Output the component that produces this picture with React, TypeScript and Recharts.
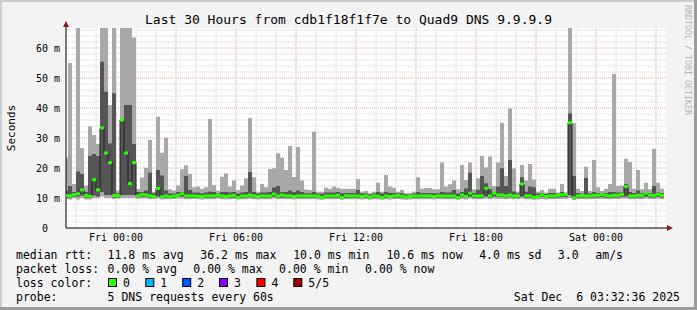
import React from 'react';
import { ComposedChart, Area, Line, XAxis, YAxis, CartesianGrid, ReferenceDot } from 'recharts';

// Smokeping 5-ping distribution per 12-minute column (ms), hours relative to Fri 00:00
const START_HOUR = -2.6;
const STEP_HOURS = 0.2;

const MAX_RTT = [
  23.4, 55.0, 14.7, 70, 26.7, 14.2, 33.8, 31.0, 28.0, 70,
  70, 41.0, 70, 12.5, 70, 70, 70, 63.5, 13.0, 16.8,
  20.1, 29.3, 12.0, 37.1, 25.1, 30.1, 12.9, 12.5, 14.2, 19.6,
  20.9, 18.0, 13.6, 13.8, 13.1, 13.6, 36.3, 14.3, 12.4, 17.1,
  18.2, 13.8, 15.8, 12.7, 14.2, 16.6, 36.7, 16.9, 12.1, 14.7,
  13.6, 19.7, 19.9, 24.9, 23.4, 19.3, 27.3, 17.0, 27.0, 15.8,
  12.8, 12.7, 32.1, 12.1, 12.1, 13.4, 13.1, 13.8, 13.4, 13.1,
  13.1, 13.1, 13.1, 16.3, 12.1, 12.3, 11.6, 12.1, 15.1, 12.1,
  17.7, 13.8, 13.4, 12.1, 12.7, 11.6, 11.6, 12.1, 16.9, 13.1,
  13.3, 13.3, 12.9, 12.9, 21.8, 13.8, 14.6, 15.8, 12.9, 21.0,
  16.0, 21.8, 12.9, 16.6, 24.0, 20.2, 23.8, 14.0, 21.8, 35.1,
  17.3, 39.8, 19.8, 12.1, 21.0, 15.8, 21.3, 16.2, 12.1, 12.7,
  11.8, 13.1, 13.1, 11.8, 14.7, 11.8, 70, 34.9, 13.1, 12.3,
  20.4, 12.3, 22.7, 13.6, 12.3, 13.1, 14.7, 51.3, 14.0, 14.2,
  23.1, 22.0, 13.1, 19.3, 12.9, 15.1, 12.9, 26.4, 15.1, 13.1,
];

const Q3_RTT = [
  12.5, 14.0, 12.0, 18.8, 18.0, 12.0, 24.1, 24.7, 24.0, 55.4,
  45.4, 28.2, 44.9, 11.5, 36.3, 41.0, 41.0, 28.0, 12.0, 12.0,
  12.5, 18.4, 11.5, 19.3, 17.5, 12.5, 11.5, 11.5, 12.0, 12.0,
  17.3, 12.7, 11.8, 11.8, 11.5, 11.8, 12.1, 12.0, 11.6, 12.0,
  12.0, 11.8, 12.0, 11.5, 11.8, 12.0, 18.7, 12.0, 11.4, 11.8,
  11.8, 12.0, 13.5, 14.0, 12.0, 12.0, 12.5, 12.0, 12.5, 12.0,
  11.6, 11.6, 12.0, 11.4, 11.4, 11.8, 11.8, 11.8, 12.0, 11.6,
  11.7, 11.7, 11.7, 12.7, 11.5, 11.5, 11.2, 11.5, 12.0, 11.5,
  12.0, 11.7, 11.7, 11.6, 11.6, 11.2, 11.2, 11.5, 12.0, 11.7,
  11.7, 11.7, 11.6, 11.6, 12.0, 11.8, 11.8, 12.7, 11.5, 12.0,
  13.2, 18.4, 11.7, 12.7, 17.3, 14.9, 12.9, 11.8, 13.8, 19.9,
  14.0, 22.7, 12.2, 11.5, 16.9, 12.1, 13.8, 13.6, 11.5, 11.6,
  11.3, 11.7, 11.7, 11.4, 12.0, 11.5, 38.2, 17.3, 11.7, 11.5,
  16.7, 11.5, 12.0, 11.7, 11.5, 11.7, 12.0, 12.0, 11.8, 11.8,
  14.7, 12.0, 11.7, 12.5, 11.6, 12.0, 11.6, 14.0, 11.8, 11.7,
];

const MEDIAN_RTT = [
  10.8, 10.8, 11.1, 11.4, 12.7, 10.8, 10.6, 16.1, 12.7, 33.4,
  25.0, 21.8, 10.8, 10.8, 36.0, 25.0, 14.8, 21.8, 10.7, 11.2,
  11.0, 10.7, 10.5, 13.2, 10.4, 10.7, 10.4, 10.7, 10.9, 11.4,
  10.7, 10.7, 10.7, 10.6, 10.5, 10.7, 10.7, 10.7, 11.0, 10.7,
  10.5, 10.7, 10.9, 10.2, 10.7, 10.7, 11.0, 10.7, 10.5, 10.7,
  10.7, 10.7, 11.3, 10.7, 11.0, 10.7, 10.7, 10.5, 10.7, 10.7,
  10.7, 10.7, 10.7, 10.6, 10.2, 10.7, 10.7, 10.7, 10.9, 10.2,
  10.8, 10.7, 10.7, 10.7, 10.5, 10.7, 10.3, 10.7, 10.6, 10.2,
  10.7, 10.5, 10.7, 10.9, 10.6, 10.3, 10.5, 10.7, 10.7, 10.7,
  10.7, 10.7, 10.5, 10.7, 10.7, 10.7, 10.7, 10.7, 10.2, 11.0,
  10.5, 11.6, 10.7, 10.7, 10.7, 13.2, 10.7, 11.6, 11.0, 11.0,
  10.7, 11.0, 10.7, 10.7, 14.7, 10.7, 10.7, 10.2, 10.5, 11.0,
  10.5, 10.7, 10.7, 10.9, 11.1, 11.1, 35.1, 10.1, 10.7, 10.9,
  10.7, 10.7, 10.9, 10.9, 11.1, 10.9, 10.7, 10.9, 10.9, 11.2,
  13.8, 10.7, 10.7, 10.9, 10.9, 11.6, 10.9, 10.9, 11.2, 10.9,
];

const Q1_RTT = [
  10.2, 10.2, 10.4, 10.5, 10.8, 10.2, 10.0, 10.8, 10.5, 12.0,
  11.0, 11.0, 10.2, 10.2, 11.0, 11.0, 11.0, 11.0, 10.2, 10.4,
  10.3, 10.1, 10.0, 10.5, 10.0, 10.1, 10.0, 10.1, 10.3, 10.5,
  10.1, 10.1, 10.1, 10.0, 10.0, 10.1, 10.1, 10.1, 10.3, 10.1,
  10.0, 10.1, 10.2, 9.9, 10.1, 10.1, 10.3, 10.1, 10.0, 10.1,
  10.1, 10.1, 10.4, 10.1, 10.2, 10.1, 10.1, 10.0, 10.1, 10.1,
  10.1, 10.1, 10.1, 10.0, 9.9, 10.1, 10.1, 10.1, 10.2, 9.9,
  10.1, 10.1, 10.1, 10.1, 10.0, 10.1, 9.9, 10.1, 10.0, 9.9,
  10.1, 10.0, 10.1, 10.2, 10.0, 9.9, 10.0, 10.1, 10.1, 10.1,
  10.1, 10.1, 10.0, 10.1, 10.1, 10.1, 10.1, 10.1, 9.9, 10.3,
  10.0, 10.5, 10.1, 10.1, 10.1, 10.5, 10.1, 10.5, 10.3, 10.3,
  10.1, 10.3, 10.1, 10.1, 10.5, 10.1, 10.1, 9.9, 10.0, 10.3,
  10.0, 10.1, 10.1, 10.2, 10.3, 10.3, 11.0, 9.8, 10.1, 10.2,
  10.1, 10.1, 10.2, 10.2, 10.3, 10.2, 10.1, 10.2, 10.2, 10.4,
  10.5, 10.1, 10.1, 10.2, 10.2, 10.5, 10.2, 10.2, 10.4, 10.2,
];

const MIN_RTT = [
  9.7, 9.5, 10.0, 9.5, 10.0, 9.5, 9.5, 10.0, 10.0, 10.5,
  10.0, 10.0, 9.7, 9.8, 10.0, 10.0, 10.0, 10.0, 9.8, 9.8,
  9.8, 9.6, 9.6, 9.8, 9.5, 9.6, 9.6, 9.7, 9.8, 9.8,
  9.6, 9.6, 9.7, 9.6, 9.5, 9.6, 9.6, 9.6, 9.8, 9.6,
  9.5, 9.6, 9.7, 9.5, 9.6, 9.6, 9.7, 9.6, 9.5, 9.6,
  9.6, 9.6, 9.8, 9.6, 9.7, 9.6, 9.6, 9.5, 9.6, 9.6,
  9.6, 9.6, 9.6, 9.5, 9.4, 9.6, 9.6, 9.6, 9.7, 9.4,
  9.6, 9.6, 9.6, 9.6, 9.5, 9.6, 9.4, 9.6, 9.5, 9.4,
  9.6, 9.5, 9.6, 9.7, 9.5, 9.4, 9.5, 9.6, 9.6, 9.6,
  9.6, 9.6, 9.5, 9.6, 9.6, 9.6, 9.6, 9.6, 9.4, 9.7,
  9.5, 9.8, 9.6, 9.6, 9.6, 9.8, 9.6, 9.8, 9.7, 9.7,
  9.6, 9.7, 9.6, 9.6, 9.8, 9.6, 9.6, 9.4, 9.5, 9.7,
  9.5, 9.6, 9.6, 9.7, 9.7, 9.7, 10.0, 9.3, 9.6, 9.7,
  9.6, 9.6, 9.7, 9.7, 9.7, 9.7, 9.6, 9.7, 9.7, 9.8,
  9.8, 9.6, 9.6, 9.7, 9.7, 9.8, 9.7, 9.7, 9.8, 9.7,
];

const X_DOMAIN: [number, number] = [-2.5, 27.5];
const Y_DOMAIN: [number, number] = [0, 200 / 3];
const X_TICKS = [0, 6, 12, 18, 24];
const X_TICK_LABELS = ['Fri 00:00', 'Fri 06:00', 'Fri 12:00', 'Fri 18:00', 'Sat 00:00'];
const Y_TICKS = [0, 10, 20, 30, 40, 50, 60];
const Y_TICK_LABELS = ['0\u00a0\u00a0', '10 m', '20 m', '30 m', '40 m', '50 m', '60 m'];
const X_MAJOR_GRID = [0, 3, 6, 9, 12, 15, 18, 21, 24, 27];
const X_MINOR_GRID = [-2, -1, 1, 2, 4, 5, 7, 8, 10, 11, 13, 14, 16, 17, 19, 20, 22, 23, 25, 26];
const Y_MAJOR_GRID = [10, 20, 30, 40, 50, 60];
const Y_MINOR_GRID = [2, 4, 6, 8, 12, 14, 16, 18, 22, 24, 26, 28, 32, 34, 36, 38, 42, 44, 46, 48, 52, 54, 56, 58, 62, 64, 66];

const TITLE = 'Last 30 Hours from cdb1f18f1f7e to Quad9 DNS 9.9.9.9';
const LOSS_COLORS = [
  { label: '0', color: '#26ff00' },
  { label: '1', color: '#00b8ff' },
  { label: '2', color: '#0059ff' },
  { label: '3', color: '#7e00ff' },
  { label: '4', color: '#ff0000' },
  { label: '5/5', color: '#a00000' },
];

const MONO = '"DejaVu Sans Mono", monospace';
const ARROW = '#8b1c1c';

const rows: any[] = MEDIAN_RTT.map((m, i) => ({
  t: +(START_HOUR + i * STEP_HOURS).toFixed(3),
  outer: [MIN_RTT[i], MAX_RTT[i]],
  inner: [Q1_RTT[i], Q3_RTT[i]],
  med: m,
}));
rows.push({
  t: +(START_HOUR + MEDIAN_RTT.length * STEP_HOURS).toFixed(3),
  outer: rows[rows.length - 1].outer,
  inner: rows[rows.length - 1].inner,
  med: null,
});

const MedianDot = (props: any) => {
  const { cx, cy, index, payload } = props;
  if (cx == null || cy == null || !payload || payload.med == null) return <g key={`md${index}`} />;
  return <rect key={`md${index}`} x={cx} y={cy - 1.5} width={4} height={3} fill="#26ff00" />;
};

const TopArrow = (p: any) => (
  <g>
    <line x1={p.cx} y1={p.cy} x2={p.cx} y2={p.cy - 2} stroke="#000" />
    <path d={`M${p.cx - 3},${p.cy - 1} L${p.cx},${p.cy - 7} L${p.cx + 3},${p.cy - 1} Z`} fill={ARROW} />
  </g>
);
const RightArrow = (p: any) => (
  <g>
    <line x1={p.cx} y1={p.cy} x2={p.cx + 2} y2={p.cy} stroke="#000" />
    <path d={`M${p.cx + 1},${p.cy - 3} L${p.cx + 7},${p.cy} L${p.cx + 1},${p.cy + 3} Z`} fill={ARROW} />
  </g>
);

const legendLine1: [string, number][] = [
  ['median rtt:', 16], ['11.8 ms avg', 107.6], ['36.2 ms max', 200.3], ['10.0 ms min', 293.2],
  ['10.6 ms now', 386.4], ['4.0 ms sd', 479.2], ['3.0', 557.8], ['am/s', 595.3],
];
const legendLine2: [string, number][] = [
  ['packet loss:', 16], ['0.00 % avg', 107.6], ['0.00 % max', 193.3], ['0.00 % min', 279.1], ['0.00 % now', 365.1],
];
const BOX_X = [108, 145.3, 182.2, 219, 256.4, 293.3];

export default function App() {
  return (
    <div style={{ position: 'absolute', left: 0, top: 0, width: 697, height: 310, background: '#f3f3f3', overflow: 'hidden' }}>
      <ComposedChart width={697} height={310} data={rows} margin={{ top: 28, right: 31, bottom: 52, left: 0 }}>
        <CartesianGrid fill="#ffffff" horizontal={false} vertical={false} />
        <CartesianGrid
          horizontalValues={Y_MINOR_GRID}
          verticalValues={X_MINOR_GRID}
          stroke="#d4d4d4"
          strokeDasharray="1 1"
        />
        <CartesianGrid
          horizontalValues={Y_MAJOR_GRID}
          verticalValues={X_MAJOR_GRID}
          stroke="#e9a3a3"
          strokeDasharray="1 1"
        />
        <XAxis
          type="number"
          dataKey="t"
          domain={X_DOMAIN}
          allowDataOverflow
          ticks={X_TICKS}
          tickFormatter={(v: number) => X_TICK_LABELS[X_TICKS.indexOf(v)]}
          tick={{ fontFamily: MONO, fontSize: 10, fill: '#000' }}
          tickLine={false}
          tickSize={0}
          tickMargin={6}
          height={30}
          axisLine={{ stroke: '#000' }}
        />
        <YAxis
          type="number"
          domain={Y_DOMAIN}
          allowDataOverflow
          ticks={Y_TICKS}
          tickFormatter={(v: number) => Y_TICK_LABELS[Y_TICKS.indexOf(v)]}
          tick={{ fontFamily: MONO, fontSize: 10, fill: '#000' }}
          tickLine={false}
          tickSize={0}
          tickMargin={6}
          width={66}
          axisLine={{ stroke: '#000' }}
        />
        <Area dataKey="outer" type="stepAfter" fill="#a8a8a8" fillOpacity={1} stroke="none" isAnimationActive={false} activeDot={false} />
        <Area dataKey="inner" type="stepAfter" fill="#555555" fillOpacity={1} stroke="none" isAnimationActive={false} activeDot={false} />
        <Line dataKey="med" type="stepAfter" stroke="#202020" strokeWidth={1} dot={MedianDot} activeDot={false} isAnimationActive={false} />
        <ReferenceDot x={X_DOMAIN[0]} y={Y_DOMAIN[1]} ifOverflow="visible" shape={TopArrow} />
        <ReferenceDot x={X_DOMAIN[1]} y={0} ifOverflow="visible" shape={RightArrow} />
      </ComposedChart>
      <svg width={697} height={310} style={{ position: 'absolute', left: 0, top: 0, pointerEvents: 'none' }} fontFamily={MONO}>
        <rect x={0} y={0} width={697} height={2} fill="#cccccc" />
        <rect x={0} y={0} width={2} height={310} fill="#cccccc" />
        <rect x={694} y={0} width={3} height={310} fill="#9c9c9c" />
        <rect x={0} y={307} width={697} height={3} fill="#9c9c9c" />
        <text x={348.5} y={24} textAnchor="middle" fontSize={13} fill="#000">{TITLE}</text>
        <text transform="translate(15,128) rotate(-90)" textAnchor="middle" fontSize={11} fill="#000">Seconds</text>
        <text transform="translate(685,5) rotate(90)" fontSize={8.3} fill="#b4b4b4">RRDTOOL / TOBI OETIKER</text>
        {legendLine1.map(([s, x]) => (
          <text key={`l1${s}`} x={x} y={259} fontSize={11.5} fill="#000">{s}</text>
        ))}
        {legendLine2.map(([s, x]) => (
          <text key={`l2${s}`} x={x} y={273} fontSize={11.5} fill="#000">{s}</text>
        ))}
        <text x={16} y={287} fontSize={11.5} fill="#000">loss color:</text>
        {LOSS_COLORS.map((c, i) => (
          <g key={`lc${c.label}`}>
            <rect x={BOX_X[i] + 0.5} y={278.5} width={8} height={8} fill={c.color} stroke="#000" strokeWidth={1} />
            <text x={BOX_X[i] + 15} y={287} fontSize={11.5} fill="#000">{c.label}</text>
          </g>
        ))}
        <text x={16} y={301} fontSize={11.5} fill="#000">probe:</text>
        <text x={107.6} y={301} fontSize={11.5} fill="#000">5 DNS requests every 60s</text>
        <text x={680} y={301} textAnchor="end" fontSize={11.5} fill="#000" style={{ whiteSpace: 'pre' }}>{'Sat Dec  6 03:32:36 2025'}</text>
      </svg>
    </div>
  );
}
